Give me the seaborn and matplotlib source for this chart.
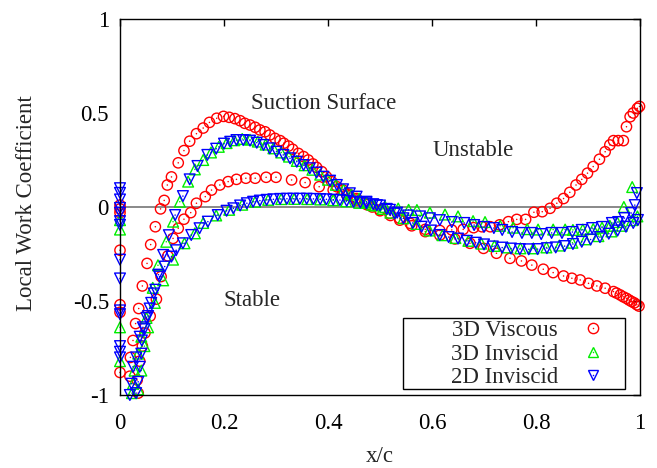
import matplotlib
matplotlib.use("Agg")
import matplotlib.pyplot as plt
import numpy as np
import pandas as pd
import seaborn as sns
from matplotlib.lines import Line2D
from matplotlib.patches import Rectangle
from matplotlib.legend_handler import HandlerTuple

# ---------------- data ----------------
series_names = ["3D Viscous", "3D Inviscid", "2D Inviscid"]

# 3D Viscous
visc_suction_x = [0.019, 0.020, 0.025, 0.030, 0.036, 0.043, 0.052, 0.059, 0.068, 0.078, 0.085, 0.091,
                  0.099, 0.112, 0.123, 0.134, 0.147, 0.160, 0.172, 0.186, 0.199, 0.210, 0.221, 0.231,
                  0.240, 0.250, 0.260, 0.269, 0.279, 0.288, 0.298, 0.308, 0.315, 0.324, 0.332, 0.343,
                  0.353, 0.362, 0.371, 0.378, 0.388, 0.397, 0.407, 0.417, 0.429, 0.440, 0.455, 0.470,
                  0.485, 0.500, 0.519, 0.538, 0.561, 0.587, 0.615, 0.644, 0.673, 0.699, 0.724, 0.750,
                  0.772, 0.792, 0.814, 0.833, 0.853, 0.869, 0.885, 0.901, 0.917, 0.933, 0.949, 0.955,
                  0.962, 0.968, 0.974, 0.979, 0.984, 0.989, 0.994, 0.998]
visc_suction_y = [-0.90, -0.80, -0.71, -0.62, -0.54, -0.42, -0.30, -0.20, -0.105, -0.010, 0.035, 0.117,
                  0.160, 0.235, 0.300, 0.350, 0.390, 0.420, 0.450, 0.472, 0.482, 0.477, 0.470, 0.459,
                  0.445, 0.436, 0.424, 0.410, 0.400, 0.383, 0.365, 0.353, 0.339, 0.324, 0.307, 0.285,
                  0.268, 0.250, 0.229, 0.211, 0.188, 0.161, 0.135, 0.108, 0.090, 0.068, 0.045, 0.020,
                  0.000, -0.015, -0.034, -0.060, -0.100, -0.131, -0.150, -0.170, -0.193, -0.220, -0.246, -0.273,
                  -0.287, -0.309, -0.331, -0.349, -0.367, -0.379, -0.388, -0.406, -0.420, -0.432, -0.450, -0.458,
                  -0.468, -0.478, -0.486, -0.495, -0.503, -0.510, -0.520, -0.527]
visc_pressure_x = [0.035, 0.033, 0.038, 0.043, 0.048, 0.058, 0.070, 0.079, 0.092, 0.102, 0.112, 0.123,
                   0.136, 0.147, 0.164, 0.176, 0.192, 0.208, 0.224, 0.242, 0.260, 0.281, 0.300, 0.330,
                   0.356, 0.383, 0.410, 0.436, 0.455, 0.475, 0.500, 0.520, 0.538, 0.558, 0.587, 0.615,
                   0.638, 0.660, 0.680, 0.696, 0.712, 0.730, 0.747, 0.763, 0.780, 0.796, 0.812, 0.827,
                   0.840, 0.853, 0.865, 0.877, 0.888, 0.899, 0.910, 0.922, 0.933, 0.942, 0.949, 0.958,
                   0.968, 0.974, 0.981, 0.987, 0.995, 0.999]
visc_pressure_y = [-0.99, -0.92, -0.82, -0.74, -0.67, -0.58, -0.49, -0.37, -0.26, -0.167, -0.113, -0.065,
                   -0.030, 0.020, 0.055, 0.090, 0.117, 0.135, 0.147, 0.153, 0.153, 0.158, 0.158, 0.144,
                   0.130, 0.108, 0.090, 0.064, 0.037, 0.012, -0.020, -0.045, -0.070, -0.087, -0.119, -0.125,
                   -0.122, -0.119, -0.110, -0.105, -0.105, -0.095, -0.078, -0.066, -0.066, -0.028, -0.025, -0.007,
                   0.020, 0.045, 0.078, 0.117, 0.147, 0.180, 0.215, 0.254, 0.294, 0.330, 0.353, 0.353,
                   0.353, 0.427, 0.480, 0.500, 0.525, 0.535]
visc_le_y = [0.01, -0.01, -0.03, -0.23, -0.52, -0.56, -0.88]

# 3D Inviscid
inv3_suction_x = [0.023, 0.025, 0.028, 0.035, 0.041, 0.051, 0.063, 0.073, 0.089, 0.102, 0.115, 0.131,
                  0.144, 0.160, 0.175, 0.190, 0.205, 0.220, 0.235, 0.250, 0.265, 0.280, 0.295, 0.310,
                  0.325, 0.340, 0.355, 0.370, 0.385, 0.400, 0.415, 0.430, 0.445, 0.460, 0.475, 0.490,
                  0.505, 0.520, 0.545, 0.570, 0.595, 0.620, 0.645, 0.670, 0.695, 0.720, 0.745, 0.770,
                  0.795, 0.820, 0.845, 0.870, 0.895, 0.920, 0.945, 0.965, 0.985, 0.995]
inv3_suction_y = [-0.99, -0.94, -0.87, -0.78, -0.69, -0.59, -0.43, -0.31, -0.185, -0.078, 0.028, 0.135,
                  0.200, 0.250, 0.290, 0.320, 0.340, 0.355, 0.362, 0.358, 0.348, 0.332, 0.312, 0.290,
                  0.268, 0.245, 0.222, 0.198, 0.172, 0.145, 0.118, 0.092, 0.066, 0.045, 0.025, 0.008,
                  -0.010, -0.030, -0.060, -0.090, -0.125, -0.150, -0.165, -0.180, -0.195, -0.207, -0.215, -0.220,
                  -0.220, -0.215, -0.205, -0.190, -0.172, -0.155, -0.130, -0.100, -0.070, -0.050]
inv3_pressure_x = [0.035, 0.041, 0.047, 0.054, 0.067, 0.083, 0.102, 0.124, 0.144, 0.160, 0.185, 0.210,
                   0.235, 0.260, 0.285, 0.310, 0.335, 0.360, 0.385, 0.410, 0.435, 0.460, 0.485, 0.510,
                   0.535, 0.555, 0.571, 0.596, 0.625, 0.650, 0.679, 0.702, 0.731, 0.756, 0.783, 0.804,
                   0.833, 0.856, 0.871, 0.890, 0.910, 0.927, 0.942, 0.956, 0.969, 0.985]
inv3_pressure_y = [-0.97, -0.87, -0.74, -0.64, -0.51, -0.39, -0.28, -0.193, -0.140, -0.085, -0.045, -0.015,
                   0.012, 0.028, 0.038, 0.042, 0.043, 0.042, 0.040, 0.036, 0.030, 0.022, 0.012, 0.000,
                   -0.008, -0.015, -0.016, -0.030, -0.040, -0.050, -0.075, -0.080, -0.100, -0.110, -0.118, -0.120,
                   -0.120, -0.120, -0.122, -0.120, -0.117, -0.110, -0.100, -0.080, 0.000, 0.106]
inv3_le_y = [-0.07, -0.12, -0.64, -0.82]

# 2D Inviscid
inv2_suction_x = [0.019, 0.022, 0.025, 0.031, 0.038, 0.044, 0.051, 0.057, 0.065, 0.074, 0.083, 0.094,
                  0.106, 0.121, 0.134, 0.149, 0.168, 0.185, 0.200, 0.212, 0.224, 0.237, 0.250, 0.263,
                  0.276, 0.288, 0.301, 0.314, 0.327, 0.340, 0.353, 0.365, 0.378, 0.391, 0.404, 0.417,
                  0.429, 0.442, 0.455, 0.474, 0.494, 0.513, 0.528, 0.545, 0.563, 0.580, 0.598, 0.615,
                  0.632, 0.650, 0.667, 0.684, 0.700, 0.717, 0.735, 0.752, 0.769, 0.786, 0.803, 0.821,
                  0.838, 0.855, 0.871, 0.888, 0.905, 0.923, 0.940, 0.957, 0.973, 0.987, 0.996]
inv2_suction_y = [-1.00, -0.94, -0.85, -0.80, -0.69, -0.64, -0.59, -0.54, -0.46, -0.36, -0.255, -0.150,
                  -0.043, 0.058, 0.147, 0.218, 0.277, 0.310, 0.337, 0.347, 0.356, 0.356, 0.353, 0.342,
                  0.330, 0.312, 0.294, 0.277, 0.259, 0.241, 0.223, 0.206, 0.183, 0.161, 0.140, 0.117,
                  0.094, 0.073, 0.055, 0.028, 0.010, -0.010, -0.035, -0.060, -0.085, -0.105, -0.125, -0.149,
                  -0.160, -0.168, -0.180, -0.190, -0.199, -0.210, -0.216, -0.221, -0.224, -0.225, -0.224, -0.219,
                  -0.215, -0.208, -0.197, -0.185, -0.173, -0.160, -0.142, -0.125, -0.105, -0.085, -0.069]
inv2_pressure_x = [0.031, 0.035, 0.038, 0.041, 0.042, 0.047, 0.054, 0.060, 0.068, 0.076, 0.086, 0.099,
                   0.108, 0.121, 0.137, 0.153, 0.169, 0.188, 0.205, 0.218, 0.231, 0.244, 0.256, 0.269,
                   0.282, 0.295, 0.308, 0.321, 0.333, 0.346, 0.359, 0.372, 0.385, 0.397, 0.410, 0.423,
                   0.436, 0.449, 0.462, 0.474, 0.487, 0.500, 0.519, 0.533, 0.554, 0.577, 0.596, 0.615,
                   0.638, 0.662, 0.681, 0.700, 0.719, 0.735, 0.754, 0.773, 0.792, 0.810, 0.830, 0.850,
                   0.870, 0.888, 0.908, 0.927, 0.946, 0.958, 0.970, 0.983, 0.990, 0.994]
inv2_pressure_y = [-0.99, -0.93, -0.85, -0.78, -0.71, -0.65, -0.58, -0.51, -0.44, -0.37, -0.317, -0.264,
                   -0.230, -0.193, -0.149, -0.113, -0.078, -0.043, -0.020, -0.007, 0.008, 0.020, 0.028, 0.034,
                   0.038, 0.041, 0.043, 0.044, 0.044, 0.044, 0.044, 0.043, 0.042, 0.041, 0.039, 0.037,
                   0.033, 0.028, 0.024, 0.020, 0.015, 0.008, -0.015, -0.030, -0.045, -0.050, -0.060, -0.070,
                   -0.080, -0.085, -0.096, -0.106, -0.112, -0.122, -0.133, -0.138, -0.138, -0.144, -0.138, -0.138,
                   -0.133, -0.122, -0.112, -0.106, -0.085, -0.080, -0.059, -0.032, 0.010, 0.074]
inv2_le_y = [0.10, 0.075, 0.04, -0.005, -0.03, -0.075, -0.095, -0.28, -0.38, -0.55, -0.57, -0.74, -0.77, -0.80]

x_ticks = [0, 0.2, 0.4, 0.6, 0.8, 1]
x_tick_labels = ["0", "0.2", "0.4", "0.6", "0.8", "1"]
y_ticks = [-1, -0.5, 0, 0.5, 1]
y_tick_labels = ["-1", "-0.5", "0", "0.5", "1"]

# ---------------- build tidy frames ----------------
def make_frame(sx, sy, px, py, le):
    xs = list(sx) + list(px) + [0.0] * len(le)
    ys = list(sy) + list(py) + list(le)
    return pd.DataFrame({"x": xs, "y": ys})

frames = {
    "3D Viscous": make_frame(visc_suction_x, visc_suction_y, visc_pressure_x, visc_pressure_y, visc_le_y),
    "3D Inviscid": make_frame(inv3_suction_x, inv3_suction_y, inv3_pressure_x, inv3_pressure_y, inv3_le_y),
    "2D Inviscid": make_frame(inv2_suction_x, inv2_suction_y, inv2_pressure_x, inv2_pressure_y, inv2_le_y),
}
colors = {"3D Viscous": "#ff0000", "3D Inviscid": "#00ee00", "2D Inviscid": "#0000ff"}
markers = {"3D Viscous": "o", "3D Inviscid": "^", "2D Inviscid": "v"}
sizes = {"3D Viscous": 55, "3D Inviscid": 60, "2D Inviscid": 60}

# ---------------- style ----------------
sns.set_theme(style="white")
plt.rcParams["font.family"] = ["Liberation Serif", "DejaVu Serif"]
plt.rcParams["axes.unicode_minus"] = False
FS = 16.5

fig = plt.figure(figsize=(6.57, 4.68), dpi=100)
ax = fig.add_axes([120 / 657, 1 - 395 / 468, 520 / 657, 376 / 468])

ax.axhline(0, color="#808080", lw=1.3, zorder=1)

handles = []
for i, name in enumerate(series_names):
    df = frames[name]
    c = colors[name]
    sns.scatterplot(data=df, x="x", y="y", marker=markers[name], s=sizes[name],
                    facecolors="none", edgecolor=c, color=c, linewidth=1.0,
                    clip_on=False, legend=False, ax=ax, zorder=3 + i)
    sns.scatterplot(data=df, x="x", y="y", marker="o", s=1.2, color=c,
                    edgecolor="none", linewidth=0, clip_on=False, legend=False,
                    ax=ax, zorder=3 + i)
    h1 = Line2D([], [], ls="none", marker=markers[name], markersize=np.sqrt(sizes[name]),
                markerfacecolor="none", markeredgecolor=c, markeredgewidth=1.0)
    h2 = Line2D([], [], ls="none", marker="o", markersize=1.1, markerfacecolor=c,
                markeredgecolor="none")
    handles.append((h1, h2))

ax.set_xlim(0, 1)
ax.set_ylim(-1, 1)
ax.set_xticks(x_ticks)
ax.set_xticklabels(x_tick_labels)
ax.set_yticks(y_ticks)
ax.set_yticklabels(y_tick_labels)
ax.tick_params(axis="both", which="major", direction="in", length=5, width=1.0,
               top=True, right=True, labelsize=FS, colors="black")
ax.tick_params(axis="x", pad=13)
ax.tick_params(axis="y", pad=8)
for sp in ax.spines.values():
    sp.set_visible(True)
    sp.set_color("black")
    sp.set_linewidth(1.0)
    sp.set_zorder(10)

ax.set_xlabel("x/c", fontsize=FS)
ax.set_ylabel("Local Work Coefficient", fontsize=FS)
ax.xaxis.set_label_coords(0.5, -0.135)
ax.yaxis.set_label_coords(-0.16, 0.51)

ax.text(0.392, 0.548, "Suction Surface", fontsize=FS, ha="center", va="center")
ax.text(0.679, 0.303, "Unstable", fontsize=FS, ha="center", va="center")
ax.text(0.254, -0.495, "Stable", fontsize=FS, ha="center", va="center")

# legend box
ax.add_patch(Rectangle((283 / 520, 6 / 376), 222 / 520, 71 / 376, transform=ax.transAxes,
                       facecolor="white", edgecolor="black", lw=1.0, zorder=8, clip_on=False))
leg = ax.legend(handles, series_names, handler_map={tuple: HandlerTuple(ndivide=1)},
                loc="lower right", bbox_to_anchor=(484 / 520, 7 / 376),
                frameon=False, markerfirst=False, borderpad=0, borderaxespad=0,
                handlelength=1.0, handletextpad=1.0, labelspacing=0.1,
                prop={"size": FS})
leg.set_zorder(9)

fig.savefig("out.png", dpi=100)
